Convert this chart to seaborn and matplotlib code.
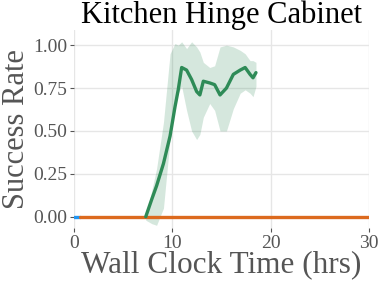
import numpy as np
import pandas as pd
import matplotlib
matplotlib.use("Agg")
import matplotlib.pyplot as plt
import seaborn as sns

## values
green_t = [7.3, 7.9, 8.4, 9.1, 9.77, 10.27, 10.6, 10.95, 11.45, 11.96, 12.47, 12.8,
           13.15, 13.8, 14.3, 14.85, 15.5, 16.2, 16.9, 17.4, 17.9, 18.2, 18.5]
green_mean = [0.00, 0.10, 0.18, 0.31, 0.47, 0.64, 0.74, 0.87, 0.855, 0.80, 0.73, 0.71,
              0.79, 0.78, 0.77, 0.71, 0.75, 0.83, 0.855, 0.87, 0.83, 0.81, 0.84]
green_upper = [0.00, 0.15, 0.28, 0.55, 0.95, 1.01, 1.00, 1.02, 0.98, 1.02, 0.99, 0.96,
               0.90, 0.87, 0.88, 0.99, 1.00, 0.99, 0.97, 0.95, 0.91, 0.91, 0.90]
green_lower = [-0.02, -0.04, -0.05, 0.05, 0.45, 0.66, 0.72, 0.76, 0.62, 0.50, 0.45, 0.48,
               0.58, 0.66, 0.62, 0.50, 0.50, 0.63, 0.72, 0.74, 0.72, 0.70, 0.76]

blue_t = [0.0, 0.6]
blue_y = [0.0, 0.0]
orange_t = [0.6, 30.0]
orange_y = [0.0, 0.0]

xticks = [0, 10, 20, 30]
yticks = [0.00, 0.25, 0.50, 0.75, 1.00]

sns.set_theme(style="whitegrid")
plt.rcParams['font.family'] = ['Liberation Serif', 'DejaVu Serif']

fig = plt.figure(figsize=(3.79, 2.84), dpi=100)
ax = fig.add_axes([0.195, 0.197, 0.779, 0.697])

green = "#2e8b57"
ax.fill_between(green_t, green_lower, green_upper, color=green, alpha=0.2, lw=0)
sns.lineplot(x=blue_t, y=blue_y, ax=ax, color="#2196f3", lw=2.4)
sns.lineplot(x=orange_t, y=orange_y, ax=ax, color="#dc6a1e", lw=2.4)
sns.lineplot(x=green_t, y=green_mean, ax=ax, color=green, lw=2.4)

ax.set_xlim(0, 30)
ax.set_ylim(-0.066, 1.088)
ax.set_xticks(xticks)
ax.set_yticks(yticks)
ax.set_yticklabels([f"{v:.2f}" for v in yticks])

for s in ax.spines.values():
    s.set_visible(False)
ax.grid(True, color="#e6e6e6", lw=1)
ax.tick_params(axis='both', which='both', length=3, width=0.8, color="#555555",
               labelsize=14, labelcolor="#555555", pad=2, bottom=True, left=True)

ax.set_title("Kitchen Hinge Cabinet", fontsize=22, color="black", pad=1)
ax.set_xlabel("Wall Clock Time (hrs)", fontsize=22.5, color="#555555", labelpad=-1)
ax.set_ylabel("Success Rate", fontsize=22, color="#555555", labelpad=1)

fig.savefig("out.png", dpi=100, facecolor="white")
